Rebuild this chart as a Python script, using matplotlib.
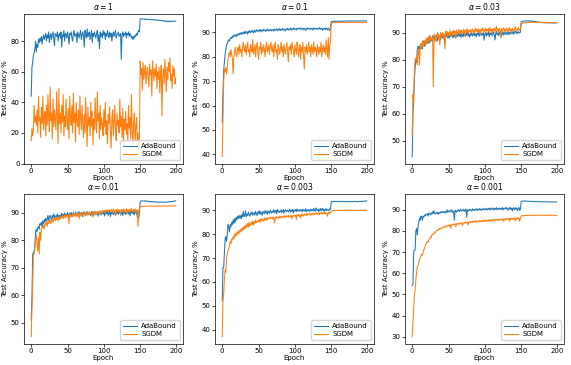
import matplotlib
matplotlib.use("Agg")
import matplotlib.pyplot as plt

epochs = list(range(200))
titles = [r"$\alpha = 1$", r"$\alpha = 0.1$", r"$\alpha = 0.03$",
          r"$\alpha = 0.01$", r"$\alpha = 0.003$", r"$\alpha = 0.001$"]
legend_labels = ["AdaBound", "SGDM"]

ada_1 = [44, 63, 66, 71, 72, 75, 80, 73, 78, 76,
         81, 79, 82, 80, 83, 78, 82, 84, 81, 83,
         85, 80, 84, 82, 86, 79, 83, 85, 81, 84,
         86, 82, 77, 85, 84, 83, 86, 80, 84, 85,
         82, 86, 76, 84, 83, 87, 80, 85, 84, 82,
         86, 83, 78, 85, 84, 86, 82, 80, 85, 87,
         83, 84, 85, 79, 86, 84, 82, 85, 87, 81,
         84, 86, 83, 76, 87, 84, 82, 88, 83, 85,
         86, 81, 84, 87, 79, 85, 83, 86, 84, 82,
         85, 87, 80, 84, 75, 86, 83, 85, 82, 87,
         84, 86, 81, 85, 83, 87, 84, 82, 86, 83,
         85, 80, 84, 86, 83, 85, 87, 82, 84, 85,
         86, 83, 84, 85, 68, 84, 86, 83, 85, 84,
         86, 82, 85, 84, 86, 83, 85, 84, 82, 83,
         81, 83, 82, 84, 83, 85, 84, 86, 87, 86,
         94.5, 94.6, 94.4, 94.5, 94.3, 94.4, 94.5, 94.2, 94.3, 94.4,
         94.1, 94.2, 94.0, 94.3, 94.1, 93.9, 94.0, 94.1, 93.8, 93.9,
         94.0, 93.7, 93.8, 93.6, 93.9, 93.5, 93.7, 93.4, 93.6, 93.3,
         93.5, 93.2, 93.4, 92.9, 93.3, 93.1, 92.6, 93.2, 93.0, 92.8,
         93.1, 92.5, 93.0, 92.9, 93.2, 92.8, 93.0, 92.9, 93.1, 93.0]
sgdm_1 = [15, 23, 18, 22, 38, 27, 31, 25, 35, 20,
          44, 28, 30, 17, 37, 26, 44, 22, 30, 34,
          18, 38, 25, 45, 30, 21, 50, 28, 33, 16,
          42, 24, 35, 28, 22, 47, 30, 13, 49, 26,
          33, 20, 38, 27, 45, 18, 31, 24, 42, 29,
          22, 36, 16, 44, 30, 25, 38, 20, 46, 27,
          33, 14, 40, 28, 24, 35, 19, 44, 30, 22,
          38, 26, 17, 32, 20, 43, 28, 11, 37, 25,
          30, 18, 40, 24, 34, 12, 29, 22, 43, 26,
          20, 47, 28, 33, 16, 38, 22, 30, 25, 18,
          35, 24, 40, 19, 28, 13, 32, 26, 37, 21,
          10, 29, 35, 18, 27, 38, 22, 15, 33, 25,
          28, 20, 42, 24, 31, 17, 36, 12, 29, 22,
          34, 19, 26, 14, 38, 23, 30, 16, 45, 21,
          12, 27, 33, 14, 24, 30, 15, 20, 10, 18,
          67, 58, 62, 48, 66, 55, 60, 64, 52, 59,
          63, 56, 50, 65, 58, 61, 44, 67, 60, 54,
          62, 57, 65, 49, 60, 55, 63, 46, 58, 64,
          31, 57, 62, 52, 68, 59, 47, 63, 55, 66,
          60, 69, 54, 58, 49, 64, 57, 62, 52, 56]

ada_2 = [53, 65, 74, 78, 81, 83, 85, 85.5, 86.5, 87,
         86.5, 87.5, 88, 87.5, 88.5, 88, 89, 88.5, 89, 88.2,
         89.2, 88.8, 89.5, 88.9, 89.7, 89.3, 90, 89.1, 89.8, 90.2,
         89.4, 90.3, 89.6, 90.5, 90.1, 89.3, 90.6, 90.0, 90.8, 89.9,
         90.4, 90.9, 90.2, 89.8, 91.0, 90.5, 90.1, 91.2, 90.7, 90.3,
         91.0, 90.6, 91.3, 90.2, 90.9, 91.1, 90.5, 91.3, 90.8, 91.0,
         90.4, 91.2, 90.9, 91.4, 90.6, 91.1, 90.8, 91.3, 90.7, 91.0,
         91.2, 90.5, 91.4, 90.9, 91.1, 91.5, 90.7, 91.3, 91.0, 91.6,
         90.8, 91.3, 91.1, 91.6, 90.9, 91.4, 91.2, 90.6, 91.5, 91.1,
         91.7, 91.0, 91.4, 91.2, 91.8, 90.9, 91.5, 91.3, 91.9, 91.1,
         91.6, 91.4, 91.0, 91.8, 91.3, 91.7, 91.5, 91.9, 91.2, 91.6,
         91.4, 91.8, 91.1, 91.7, 91.5, 90.8, 91.6, 91.9, 91.3, 91.7,
         91.5, 91.2, 91.8, 91.4, 91.6, 91.0, 91.9, 91.5, 91.3, 91.7,
         91.4, 91.8, 91.2, 91.6, 92.0, 91.3, 91.7, 91.5, 90.9, 91.8,
         91.4, 91.7, 91.2, 91.9, 91.5, 91.1, 91.8, 91.3, 90.8, 91.6,
         94.4, 94.5, 94.6, 94.5, 94.6, 94.7, 94.5, 94.6, 94.6, 94.7,
         94.6, 94.7, 94.5, 94.6, 94.7, 94.6, 94.8, 94.6, 94.7, 94.6,
         94.7, 94.8, 94.6, 94.7, 94.7, 94.8, 94.6, 94.7, 94.8, 94.7,
         94.7, 94.8, 94.7, 94.6, 94.8, 94.7, 94.8, 94.7, 94.7, 94.8,
         94.7, 94.8, 94.8, 94.7, 94.8, 94.7, 94.8, 94.8, 94.7, 94.8]
sgdm_2 = [39, 55, 70, 75, 74, 75.5, 73, 76, 79, 81,
          82, 80, 83, 81, 79, 73, 80, 82, 84, 81,
          80, 83, 84, 81, 85, 82, 83, 80, 84, 86,
          83, 82, 85, 81, 84, 86, 82, 83, 80, 85,
          84, 82, 87, 81, 83, 85, 80, 84, 86, 82,
          79, 84, 83, 86, 81, 84, 82, 85, 83, 80,
          84, 86, 82, 83, 85, 81, 84, 86, 83, 82,
          85, 80, 84, 86, 82, 83, 79, 85, 84, 81,
          83, 86, 82, 84, 80, 85, 83, 81, 84, 86,
          82, 78, 84, 83, 85, 81, 86, 84, 82, 80,
          85, 83, 81, 86, 84, 80, 83, 85, 79, 84,
          82, 86, 80, 75, 84, 82, 85, 81, 83, 86,
          82, 84, 80, 85, 83, 81, 86, 82, 84, 83,
          80, 85, 83, 81, 84, 82, 86, 80, 83, 85,
          82, 84, 81, 87, 83, 80, 88, 79, 85, 86,
          93.8, 94.0, 94.1, 94.0, 94.1, 94.0, 94.1, 94.0, 94.1, 94.1,
          94.0, 94.1, 94.2, 94.1, 94.0, 94.1, 94.2, 94.1, 94.0, 94.1,
          94.2, 94.1, 94.1, 94.0, 94.2, 94.1, 94.0, 94.1, 94.2, 94.1,
          94.1, 94.0, 94.2, 94.1, 94.1, 94.2, 94.0, 94.1, 94.2, 94.1,
          94.0, 94.1, 94.2, 94.1, 94.0, 94.1, 94.1, 94.2, 94.1, 94.0]

ada_3 = [44, 60, 67, 73, 77, 80, 79, 84, 85, 83,
         85, 84, 86, 85, 84, 86, 87, 85, 86, 87,
         86, 87.5, 88, 86, 87, 88.5, 87, 88, 86.5, 88,
         89, 87, 88.5, 89, 88, 87, 89.5, 88, 89, 87.5,
         88.5, 89, 88, 89.5, 87.5, 86, 89, 88.5, 89.5, 88,
         89, 88, 89.5, 88.5, 89, 90, 88, 89, 88.5, 89.5,
         88, 89.5, 89, 88.5, 90, 88.8, 89.5, 88.2, 89.8, 89,
         88.5, 90, 89.2, 88.6, 89.8, 89, 90.2, 88.8, 89.5, 88.3,
         89.7, 89, 90, 88.7, 89.4, 90.1, 88.9, 89.6, 88.4, 89.8,
         89.2, 90.3, 88.6, 89.5, 90, 88.9, 89.7, 89.1, 90.2, 87.2,
         89.5, 90, 88.7, 89.8, 89.2, 90.4, 88.5, 89.9, 89.3, 90.1,
         88.8, 89.6, 90.3, 89, 87.3, 89.8, 90.5, 89.2, 89.7, 88.9,
         90.2, 89.4, 90, 88.8, 89.6, 90.3, 89.1, 89.8, 90.4, 89.3,
         90, 89.5, 90.6, 89.2, 89.9, 90.3, 89.5, 90.1, 89.7, 90.5,
         89.4, 90.2, 90.7, 89.8, 90.3, 89.6, 90.4, 90, 89.9, 90.3,
         93.9, 94.1, 94.2, 94.3, 94.2, 94.4, 94.3, 94.4, 94.3, 94.4,
         94.3, 94.4, 94.2, 94.4, 94.3, 94.2, 94.3, 94.1, 94.2, 94.0,
         94.1, 94.0, 93.9, 94.0, 93.9, 93.8, 93.9, 93.7, 93.8, 93.7,
         93.8, 93.7, 93.6, 93.8, 93.7, 93.6, 93.7, 93.6, 93.7, 93.6,
         93.7, 93.6, 93.7, 93.6, 93.7, 93.5, 93.6, 93.7, 93.6, 93.7]
sgdm_3 = [52, 67, 64, 76, 80, 80.5, 81, 78, 84, 83,
          78, 85, 86, 84, 87, 85, 86.5, 87, 85, 88,
          87, 86, 88.5, 87, 89, 86.5, 88, 87.5, 89, 70,
          87, 89.5, 88, 86.5, 89, 90, 87.5, 89, 85.5, 90,
          88.5, 89.5, 90, 88, 89.5, 84, 90.5, 89, 90.5, 88.5,
          90, 89, 91, 88.5, 90, 90.5, 89, 91, 89.5, 90.5,
          88, 91, 90, 89.5, 91.2, 90, 90.8, 89.5, 91, 90.3,
          89.8, 91.3, 90.5, 88.8, 91, 90.2, 91.5, 89.7, 90.8, 90.4,
          91.2, 89.5, 90.9, 91.4, 90.1, 91, 89.8, 91.6, 90.5, 91.2,
          90.3, 91.5, 90, 91.1, 89.6, 91.4, 90.7, 91.8, 90.2, 91,
          90.6, 91.7, 89.9, 91.3, 90.8, 91.5, 90.1, 91.9, 90.6, 91.2,
          89.5, 91.4, 90.9, 91.8, 90.3, 91.1, 92.3, 90.7, 91.4, 90,
          91.6, 90.8, 88, 91.5, 90.4, 91.2, 91.8, 90.6, 91.3, 90.2,
          91.7, 90.9, 91.4, 90.5, 91.9, 90.8, 91.3, 89.9, 91.6, 91,
          90.7, 91.5, 92.2, 90.9, 91.4, 90.6, 92, 91.2, 90.8, 91.5,
          93.4, 93.5, 93.6, 93.5, 93.7, 93.6, 93.7, 93.8, 93.7, 93.8,
          93.7, 93.8, 93.9, 93.8, 93.7, 93.8, 93.9, 93.8, 93.7, 93.8,
          93.9, 93.8, 93.7, 93.8, 93.9, 93.8, 93.8, 93.7, 93.8, 93.9,
          93.8, 93.7, 93.8, 93.8, 93.7, 93.8, 93.9, 93.8, 93.7, 93.8,
          93.7, 93.8, 93.7, 93.8, 93.7, 93.6, 93.7, 93.8, 93.6, 93.7]

ada_4 = [51, 59, 75, 75.5, 76, 78, 83, 84, 83, 84.5,
         85, 84, 86, 85.5, 86.5, 85, 87, 86, 87.5, 86.5,
         88, 87, 87.5, 89, 87, 88.5, 89, 88, 87.5, 89,
         88, 89.5, 88.5, 87.5, 89, 88, 89.5, 88.5, 89, 87.8,
         89.2, 88.6, 89.8, 88.2, 89.4, 88.8, 89.9, 88.4, 89.5, 88.9,
         90, 88.5, 89.3, 89.8, 88.7, 90.1, 89.2, 88.6, 90, 89.4,
         88.8, 90.2, 89.5, 88.9, 90, 89.3, 90.4, 88.7, 89.7, 90.1,
         89.2, 88.6, 90.3, 89.5, 90, 88.9, 89.8, 90.4, 89.1, 89.7,
         90.2, 89.4, 88.8, 90.1, 89.6, 90.5, 88.9, 89.9, 90.3, 89.2,
         89.8, 90.4, 88.7, 90, 89.5, 90.6, 89.1, 89.9, 90.2, 89.4,
         90.5, 88.8, 89.9, 90.3, 89.5, 90.6, 89, 89.8, 90.4, 88.6,
         90.1, 89.5, 90.7, 89.3, 89.9, 90.4, 88.9, 90.2, 89.6, 90.8,
         89.4, 90, 90.6, 89.1, 89.8, 90.3, 88.9, 90.5, 89.7, 90.1,
         89.3, 90.4, 89.8, 90.7, 89.5, 90.2, 88.8, 90.6, 89.9, 90.3,
         89.6, 90.5, 89.2, 90.8, 89.9, 90.1, 88.5, 90.6, 87.8, 90.2,
         93.8, 94.1, 94.2, 94.3, 94.2, 94.3, 94.2, 94.3, 94.2, 94.1,
         94.2, 94.1, 94.0, 94.1, 94.0, 94.1, 93.9, 94.0, 93.9, 94.0,
         93.9, 93.8, 93.9, 93.8, 93.9, 93.8, 93.7, 93.8, 93.9, 93.8,
         93.7, 93.8, 93.9, 93.8, 93.7, 93.8, 93.9, 93.8, 93.9, 94.0,
         93.9, 94.0, 93.9, 94.0, 94.1, 94.0, 94.1, 94.2, 94.2, 94.3]
sgdm_4 = [45, 55, 63, 75, 75, 77, 80, 82, 79, 76,
          81, 75, 83, 80, 84, 85, 84.5, 85.5, 84, 86,
          85.5, 86.5, 85, 87, 86, 86.5, 87.5, 86, 87, 88,
          86.5, 87.5, 88, 87, 88.5, 87.5, 88, 87, 88.5, 88,
          87.5, 88.8, 88.2, 89, 87.8, 88.6, 89.2, 88, 88.9, 89.3,
          88.4, 89.1, 86, 89.5, 88.7, 89.2, 88.3, 89.6, 88.9, 89.4,
          88.6, 89.8, 89.1, 88.5, 89.7, 89.3, 87.8, 89.9, 89.2, 89.6,
          88.8, 90, 89.4, 89.1, 90.2, 88.9, 89.7, 90.1, 89.3, 89.8,
          90.3, 89.2, 89.9, 90.4, 89.5, 88.4, 90.2, 89.7, 90.5, 89.4,
          90.1, 89.6, 90.6, 89.8, 90.3, 89.5, 90.7, 89.9, 90.4, 90.9,
          90, 90.8, 90.3, 91, 90.5, 90.9, 90.2, 91.1, 90.6, 90.4,
          91.2, 90.7, 90.1, 91.3, 90.5, 90.9, 89, 91.1, 90.6, 91.2,
          90.4, 91, 90.7, 89.3, 91.2, 90.5, 90.8, 91.3, 89.8, 91,
          90.6, 91.4, 89.6, 91.1, 90.8, 90.2, 91.3, 90.5, 91.5, 90.9,
          90.3, 91.2, 90.7, 91.4, 89.9, 90.8, 91.1, 85, 90.6, 91.3,
          92.1, 92.2, 92.3, 92.2, 92.3, 92.4, 92.3, 92.4, 92.3, 92.4,
          92.3, 92.4, 92.3, 92.4, 92.5, 92.4, 92.3, 92.4, 92.3, 92.4,
          92.4, 92.3, 92.4, 92.5, 92.4, 92.3, 92.4, 92.4, 92.3, 92.4,
          92.5, 92.4, 92.3, 92.4, 92.4, 92.5, 92.4, 92.3, 92.4, 92.5,
          92.4, 92.5, 92.4, 92.4, 92.5, 92.4, 92.5, 92.4, 92.5, 92.5]

ada_5 = [52, 66, 66, 72, 78, 79, 77, 80, 84, 83,
         81, 84, 83, 85, 84, 86, 84.5, 86.5, 85, 87,
         86, 87.5, 86.5, 88, 86.8, 87.7, 86.4, 88.3, 87.2, 89.5,
         87.4, 88, 89.8, 87.2, 88.5, 87.8, 89.2, 88.1, 87.5, 88.9,
         88.3, 89.4, 87.9, 88.6, 89.1, 88, 89.6, 88.4, 87.8, 89.3,
         88.7, 89.9, 88.2, 89.4, 88.8, 87.9, 89.6, 89, 88.5, 90,
         88.9, 89.5, 88.3, 89.8, 89.2, 88.7, 90.1, 89.4, 88.8, 89.7,
         89.2, 90.3, 88.9, 89.6, 90, 88.6, 90.4, 89.3, 89.8, 89.1,
         89.7, 90.2, 89, 89.5, 90.4, 88.8, 89.9, 90.3, 89.4, 89.8,
         90.1, 89.3, 89.9, 90.5, 89.2, 90, 89.6, 90.4, 88.9, 90.2,
         89.7, 90.3, 89.4, 90.6, 89.8, 90.1, 89.5, 90.4, 89.9, 90.2,
         89.3, 90.5, 89.8, 90.2, 89.6, 90.7, 89.4, 90, 90.4, 89.7,
         90.2, 89.5, 90.6, 89.9, 90.3, 89.7, 90.8, 90.1, 89.6, 91,
         90.4, 89.8, 90.6, 89.5, 90.2, 90.8, 89.7, 90.3, 90.9, 89.8,
         90.5, 89.6, 90.2, 90.7, 89.9, 90.4, 90.1, 89.8, 90.6, 90.3,
         93.5, 93.7, 93.6, 93.8, 93.7, 93.8, 93.6, 93.7, 93.8, 93.7,
         93.6, 93.7, 93.8, 93.7, 93.6, 93.7, 93.8, 93.7, 93.6, 93.7,
         93.8, 93.7, 93.6, 93.7, 93.6, 93.7, 93.8, 93.7, 93.6, 93.7,
         93.6, 93.7, 93.8, 93.7, 93.6, 93.7, 93.6, 93.7, 93.8, 93.7,
         93.7, 93.8, 93.7, 93.8, 93.7, 93.8, 93.9, 93.8, 93.9, 94.0]
sgdm_5 = [37, 52, 55, 61, 65, 64, 70, 72, 73, 74,
          75, 77, 76, 78, 77.5, 79, 78, 80, 79, 80.5,
          79.5, 81, 80, 81.5, 80.5, 82, 81, 82.5, 81.5, 83,
          82, 83.5, 82.5, 84, 83, 84.5, 83, 85, 83.5, 84,
          85, 84, 85.5, 83.8, 85.2, 84.5, 86, 84.8, 85.5, 85,
          86, 85.2, 86.3, 85, 86.5, 85.8, 86.2, 85.4, 86.8, 86,
          86.5, 85.8, 87, 86.2, 86.8, 86.4, 87.2, 86.6, 87, 86.3,
          87.3, 86.7, 84.8, 87, 86.5, 87.4, 86.9, 87.2, 86.6, 87.5,
          87, 87.6, 86.8, 87.4, 87.1, 87.8, 86.9, 87.5, 87.2, 87.7,
          87.3, 87.9, 87, 87.6, 87.4, 88, 86.5, 87.7, 87.5, 88.1,
          87.6, 88, 86.2, 88.2, 87.7, 88.3, 87.4, 88.1, 86.8, 88.4,
          87.9, 88.3, 87.5, 88.5, 88, 88.4, 87.7, 88.6, 88.1, 88.5,
          88.2, 88.7, 87.9, 88.6, 88.3, 88.8, 88, 88.7, 88.4, 88.9,
          88.3, 88.8, 88.5, 89, 88.2, 88.9, 88.6, 89.1, 88.4, 89,
          88.7, 89.2, 88.5, 89, 88.8, 87.5, 89.1, 88.6, 89.2, 88.9,
          89.6, 89.8, 89.7, 89.9, 89.8, 90, 89.9, 90, 89.9, 90.1,
          90, 89.9, 90, 90.1, 90, 89.9, 90, 90.1, 90, 90.1,
          90, 90.1, 90, 89.9, 90, 90.1, 90, 90, 90.1, 90,
          89.9, 90, 90.1, 90, 90, 90.1, 90, 89.9, 90, 90.1,
          90, 90, 90.1, 90, 89.9, 90, 90, 90.1, 90, 89.9]

ada_6 = [54, 55, 70, 71, 71, 80, 81, 78, 82, 84,
         86, 85, 87, 86.5, 85, 87, 86.5, 87.5, 87, 88,
         87.5, 88, 87, 88.5, 88, 87.5, 88.5, 87.8, 89, 88.2,
         89.5, 88.3, 87.9, 88.6, 88.2, 88.8, 87.8, 88.7, 88.4, 89,
         88.5, 89.2, 88.6, 88.9, 89.3, 88.4, 89, 88.7, 90, 88.8,
         89.2, 89.6, 88.9, 89.4, 90, 88.7, 89.5, 89.1, 85, 89.7,
         89.3, 88.8, 89.8, 89.4, 90, 89.1, 89.6, 90.2, 89.3, 89.8,
         89.5, 90.1, 89.2, 89.7, 90.3, 86.5, 89.9, 89.4, 90, 89.6,
         90.2, 89.7, 89.3, 90.4, 89.8, 90.1, 89.5, 90.3, 89.9, 90.5,
         89.6, 90.2, 89.9, 90.6, 89.8, 90.3, 89.7, 90.1, 90.6, 89.9,
         90.4, 90, 90.7, 89.8, 90.3, 90.6, 90, 90.8, 89.9, 90.5,
         90.2, 90.9, 89.8, 90.4, 90.7, 90.1, 91, 89.9, 90.5, 90.3,
         90.8, 90, 90.6, 90.3, 91.1, 89.8, 90.7, 90.4, 90.9, 90.2,
         91, 90.4, 89.7, 90.8, 90.3, 91.2, 90, 90.6, 89.4, 90.9,
         90.5, 89.9, 91, 90.2, 90.7, 89.5, 90.4, 91.1, 89.6, 90.3,
         93.8, 94, 94.1, 94, 94.1, 94.2, 94, 94.1, 94, 93.9,
         94, 93.9, 94, 93.9, 93.8, 93.9, 94, 93.9, 93.8, 93.9,
         93.8, 93.9, 93.8, 93.7, 93.8, 93.9, 93.8, 93.7, 93.8, 93.7,
         93.8, 93.7, 93.8, 93.7, 93.6, 93.7, 93.8, 93.7, 93.6, 93.7,
         93.6, 93.7, 93.6, 93.7, 93.6, 93.7, 93.6, 93.7, 93.7, 93.7]
sgdm_6 = [30, 37, 43, 50, 52, 57, 60, 63, 63.5, 65,
          66, 67.5, 68, 69, 68.5, 70, 71, 72, 73, 74,
          74.5, 75, 74.8, 76, 76.5, 77, 76.8, 78, 78.5, 78.2,
          79, 79.4, 79.2, 80, 80.3, 80.1, 80.8, 80.5, 81.2, 80.9,
          81.4, 81.2, 81.8, 81.5, 82, 81.7, 82.3, 82, 82.5, 82.2,
          82.6, 82.3, 83, 81.2, 82.8, 83.1, 82.7, 83.3, 82.9, 83.4,
          82, 83.2, 83.6, 83, 83.5, 83.2, 83.7, 83.4, 83.9, 82.5,
          83.5, 83.8, 84, 83.6, 84.1, 83.7, 84.2, 82.8, 84, 84.3,
          83.8, 84.4, 84.1, 84.6, 83.9, 84.5, 84.2, 84.8, 84, 84.6,
          84.3, 84.7, 84.4, 85, 84.2, 84.8, 84.5, 85.1, 84.3, 84.9,
          84.6, 85.2, 84.4, 85, 84.7, 85.3, 84.5, 85.1, 84.8, 85.4,
          84.6, 85.2, 84.9, 85.5, 84.7, 85.3, 85, 85.6, 84.8, 85.4,
          85.1, 85.7, 84.9, 85.5, 85.2, 85.8, 84.5, 85.6, 85.3, 85.9,
          85.2, 85.7, 85.4, 86, 84.6, 85.8, 85.5, 86.1, 85.3, 85.9,
          85.6, 86.2, 84.7, 86, 85.7, 86.3, 85.4, 86.1, 84.5, 86.2,
          87, 87.1, 87.2, 87.1, 87.3, 87.2, 87.3, 87.2, 87.4, 87.3,
          87.3, 87.4, 87.3, 87.2, 87.3, 87.4, 87.3, 87.4, 87.3, 87.4,
          87.3, 87.4, 87.4, 87.3, 87.4, 87.3, 87.4, 87.5, 87.4, 87.3,
          87.4, 87.3, 87.4, 87.3, 87.4, 87.4, 87.3, 87.4, 87.3, 87.4,
          87.3, 87.4, 87.3, 87.3, 87.4, 87.3, 87.3, 87.2, 87.3, 87.2]

ada_series = [ada_1, ada_2, ada_3, ada_4, ada_5, ada_6]
sgdm_series = [sgdm_1, sgdm_2, sgdm_3, sgdm_4, sgdm_5, sgdm_6]

W, H = 571, 365
fig = plt.figure(figsize=(W / 100, H / 100), dpi=100)
lefts = [24, 215, 405]
tops = [14, 194]
aw, ah = 159, 149.5

for i in range(6):
    r, c = divmod(i, 3)
    ax = fig.add_axes([lefts[c] / W, 1 - (tops[r] + ah) / H, aw / W, ah / H])
    ax.plot(epochs, ada_series[i], color="#1f77b4", lw=0.75, label=legend_labels[0])
    ax.plot(epochs, sgdm_series[i], color="#ff7f0e", lw=0.75, label=legend_labels[1])
    if i == 0:
        ax.set_ylim(0, 97.7)
    ax.set_xticks([0, 50, 100, 150, 200])
    ax.tick_params(labelsize=5, length=2.2, width=0.5, pad=1)
    for s in ax.spines.values():
        s.set_linewidth(0.5)
    ax.set_title(titles[i], fontsize=5.5, pad=3)
    ax.set_xlabel("Epoch", fontsize=5, labelpad=0.5)
    ax.set_ylabel("Test Accuracy %", fontsize=5, labelpad=2)
    ax.legend(loc="lower right", fontsize=5, handlelength=2.0,
              borderpad=0.4, labelspacing=0.3, handletextpad=0.6,
              framealpha=0.8)

fig.savefig("out.png", dpi=100)
